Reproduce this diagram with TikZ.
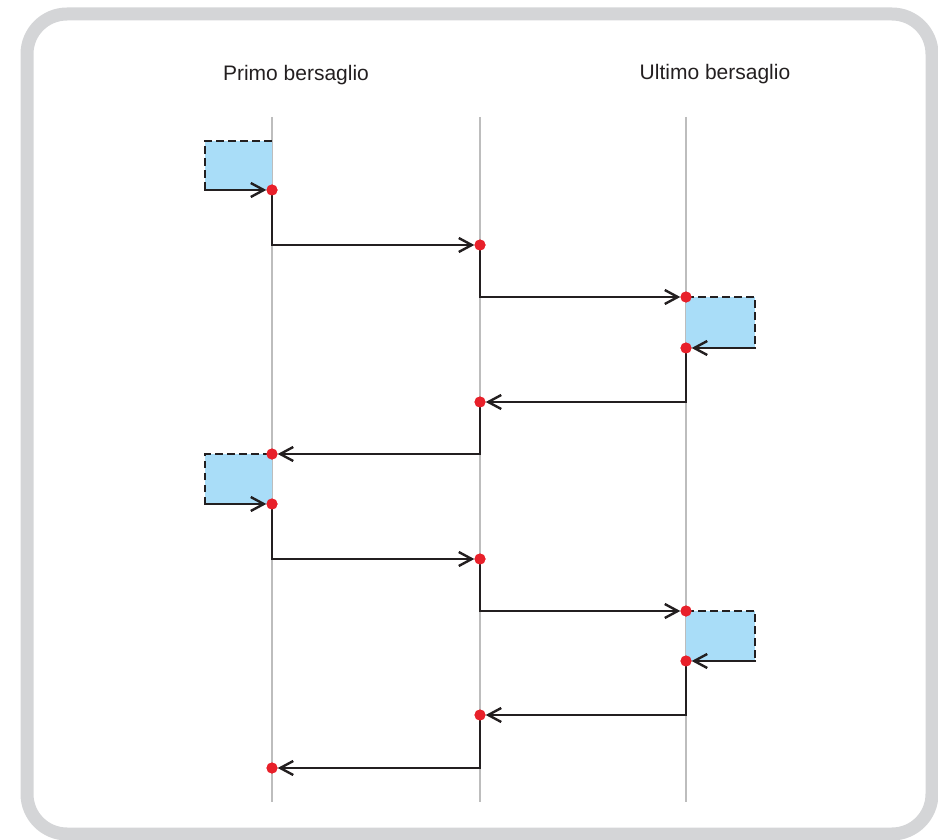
\documentclass[tikz,border=0pt]{standalone}
\usepackage{fontspec}
\setmainfont{Liberation Sans}
\usetikzlibrary{arrows.meta}
\definecolor{framegray}{HTML}{D4D5D7}
\definecolor{guide}{HTML}{BDBDBD}
\definecolor{ink}{HTML}{231F20}
\definecolor{dotred}{HTML}{E8202A}
\definecolor{boxblue}{HTML}{A9DDF8}
\tikzset{
  conn/.style={draw=ink, line width=2.4pt, -{Straight Barb[length=13pt,width=14pt,line width=2.4pt]}},
  dot/.style={circle, fill=dotred, inner sep=0pt, minimum size=11pt},
  guideline/.style={draw=guide, line width=1.3pt},
  dashedge/.style={draw=ink, line width=2.8pt, dash pattern=on 7.5pt off 4.5pt},
  boxfill/.style={fill=boxblue, draw=none},
  label/.style={font=\fontsize{21}{25}\selectfont, text=ink}
}
\begin{document}
\begin{tikzpicture}[x=1pt,y=-1pt]
\useasboundingbox (0,0) rectangle (938,840);
% frame
\draw[framegray, line width=13pt, rounded corners=40pt] (27,14) rectangle (932,834);
% guide lines
\foreach \n/\x in {a/272,b/480,c/686}{
  \coordinate (\n top) at (\x,117);
  \coordinate (\n bot) at (\x,802);
  \draw[guideline] (\n top) -- (\n bot);
}
% labels
\node[label] (l1) at (296,75) {Primo bersaglio};
\node[label] (l2) at (715,74) {Ultimo bersaglio};
% boxes
\fill[boxfill] (205,141) rectangle (272,190);
\draw[dashedge] (205,190) -- (205,141) -- (272,141);
\fill[boxfill] (686,297) rectangle (755,348);
\draw[dashedge] (686,297) -- (755,297) -- (755,348);
\fill[boxfill] (205,454) rectangle (272,504);
\draw[dashedge] (205,504) -- (205,454) -- (272,454);
\fill[boxfill] (686,611) rectangle (755,661);
\draw[dashedge] (686,611) -- (755,611) -- (755,661);
% dots
\node[dot] (d1) at (272,190) {};
\node[dot] (d2) at (480,245) {};
\node[dot] (d3) at (686,297) {};
\node[dot] (d4) at (686,348) {};
\node[dot] (d5) at (480,402) {};
\node[dot] (d6) at (272,454) {};
\node[dot] (d7) at (272,504) {};
\node[dot] (d8) at (480,559) {};
\node[dot] (d9) at (686,611) {};
\node[dot] (d10) at (686,661) {};
\node[dot] (d11) at (480,715) {};
\node[dot] (d12) at (272,768) {};
% box entry points
\coordinate (e1) at (204,190);
\coordinate (e4) at (756,348);
\coordinate (e7) at (204,504);
\coordinate (e10) at (756,661);
% connectors
\draw[conn] (e1) -- (d1);
\draw[conn] (d1.center) |- (d2);
\draw[conn] (d2.center) |- (d3);
\draw[conn] (e4) -- (d4);
\draw[conn] (d4.center) |- (d5);
\draw[conn] (d5.center) |- (d6);
\draw[conn] (e7) -- (d7);
\draw[conn] (d7.center) |- (d8);
\draw[conn] (d8.center) |- (d9);
\draw[conn] (e10) -- (d10);
\draw[conn] (d10.center) |- (d11);
\draw[conn] (d11.center) |- (d12);
% dots on top
\foreach \d in {d1,d2,d3,d4,d5,d6,d7,d8,d9,d10,d11,d12}{
  \fill[dotred] (\d) circle (5.5pt);
}
\end{tikzpicture}
\end{document}
